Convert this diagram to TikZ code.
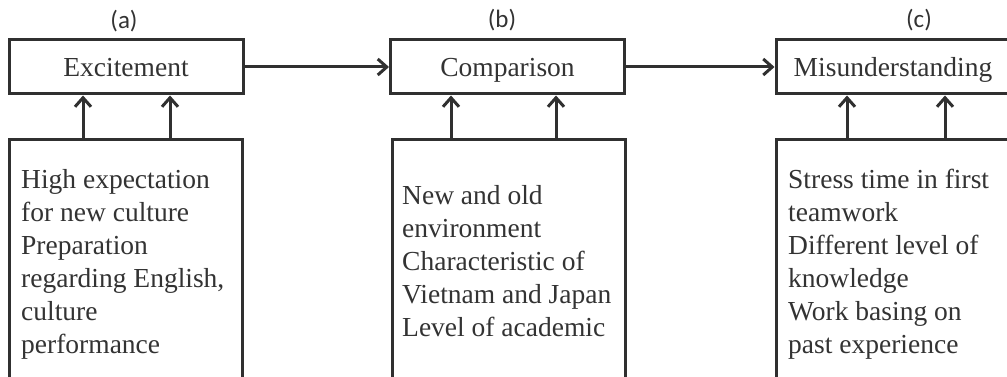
\documentclass[tikz,border=0pt]{standalone}
\usepackage{fontspec}
\setmainfont{Liberation Serif}
\newfontfamily\labfont{Carlito}
\usetikzlibrary{arrows.meta}
\definecolor{ln}{HTML}{303030}
\definecolor{tx}{HTML}{333333}
\begin{document}
\begin{tikzpicture}[x=1pt,y=-1pt,
  topbox/.style={draw=ln, line width=3pt, minimum width=234pt, minimum height=54pt,
     inner sep=0pt, text height=20pt, text depth=0pt, text=tx,
     font=\fontsize{27.5}{33}\selectfont},
  botbox/.style={draw=ln, line width=3pt, minimum width=233pt, minimum height=238pt, inner sep=0pt},
  bodytext/.style={anchor=north west, align=left, inner sep=0pt, text=tx,
     font=\fontsize{27.5}{33}\selectfont},
  lab/.style={text=tx, font=\labfont\fontsize{25}{28}\selectfont, inner sep=0pt},
  arr/.style={draw=ln, line width=3pt, -{Straight Barb[length=9pt,width=16pt,line width=3pt]}}
]
\clip (0,0) rectangle (1007,377);
\fill[white] (0,0) rectangle (1007,377);

% top boxes
\node[topbox] (ta) at (126,67) {Excitement};
\node[topbox] (tb) at (507.5,67) {Comparison};
\node[topbox] (tc) at (893,67) {Misunderstanding};

% labels
\node[lab] (la) at (124,21) {(a)};
\node[lab] (lb) at (502,20) {(b)};
\node[lab] (lc) at (919,20) {(c)};

% bottom boxes
\node[botbox] (ba) at (126,259) {};
\node[botbox] (bb) at (508.5,259) {};
\node[botbox] (bc) at (893,259) {};

% bottom texts
\node[bodytext] (xa) at (21,169) {High expectation\\for new culture\\Preparation\\regarding English,\\culture\\performance};
\node[bodytext] (xb) at (402,185) {New and old\\environment\\Characteristic of\\Vietnam and Japan\\Level of academic};
\node[bodytext] (xc) at (788,169) {Stress time in first\\teamwork\\Different level of\\knowledge\\Work basing on\\past experience};

% horizontal arrows
\draw[arr] (ta.east) -- (tb.west);
\draw[arr] (tb.east) -- (tc.west);

% vertical arrows
\coordinate (a1) at (83,140);
\coordinate (a2) at (170,140);
\coordinate (b1) at (451,140);
\coordinate (b2) at (556,140);
\coordinate (c1) at (847,140);
\coordinate (c2) at (945,140);
\foreach \p/\t in {a1/ta,a2/ta,b1/tb,b2/tb,c1/tc,c2/tc}{
  \draw[arr] (\p) -- (\p |- \t.south);
}
\end{tikzpicture}
\end{document}
